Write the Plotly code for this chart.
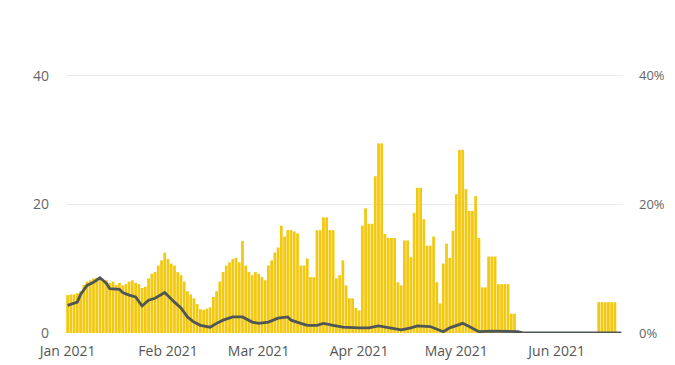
"""Daily bars with a rolling share line on a secondary percent axis."""

import pandas as pd
import plotly.graph_objects as go

# Palette
BAR_YELLOW = "#F2C811"
LINE_GRAY = "#4F5656"
GRID_GRAY = "#EBEBEB"
TICK_GRAY = "#666666"

# Daily bar values, 1 Jan 2021 onwards
bar_start = "2021-01-01"
bar_values = (
    [5.9, 6.0, 6.0, 6.2, 6.5]
    + [7.5, 8.0, 8.2, 8.5, 8.6, 8.3]
    + [8.0, 8.2, 7.8, 8.0, 7.5, 7.8, 7.4]
    + [7.6, 8.0, 8.2, 7.8, 7.6, 7.0, 7.2]
    + [8.5, 9.2, 9.5, 10.5, 11.3, 12.5]
    + [11.5, 10.8, 10.5, 9.5, 9.0, 8.0]
    + [6.5, 6.0, 5.4, 4.5]
    + [3.7, 3.6, 3.8, 4.0]
    + [5.6, 6.5, 8.0]
    + [9.5, 10.5, 11.0, 11.5, 11.7, 11.0]
    + [14.3]
    + [10.5, 9.5, 9.0, 9.5, 9.2, 8.7, 8.2]
    + [10.5, 11.3, 12.5, 13.3]
    + [16.7, 15.0, 16.0, 16.0, 15.8, 15.5]
    + [10.5, 10.5, 11.6, 8.7, 8.7]
    + [16.0, 16.0, 18.0, 18.0, 16.0, 16.0, 8.5, 9.0]
    + [11.3, 7.4, 5.4, 5.4, 3.9, 3.5]
    + [16.7, 19.4, 17.0, 17.0, 24.4, 29.5, 29.5]
    + [15.4, 14.8, 14.8, 14.8, 7.9, 7.4]
    + [14.4, 14.4, 11.8, 18.7, 22.6, 22.6, 17.7]
    + [13.6, 13.6, 15.0, 7.9, 4.6]
    + [10.8, 13.9, 11.7, 15.9, 21.6, 28.5, 28.5]
    + [22.4, 19.0, 19.0, 21.3, 14.8, 7.1, 7.1]
    + [11.9, 11.9, 11.9, 7.6, 7.6, 7.6, 7.6]
    + [3.0, 3.0]
    + [0] * 25
    + [4.8, 4.8, 4.8, 4.8, 4.8, 4.8]
)

# Line points (percent)
line_dates = [
    "2021-01-01", "2021-01-04", "2021-01-05", "2021-01-07", "2021-01-09",
    "2021-01-11", "2021-01-13", "2021-01-14", "2021-01-17", "2021-01-18",
    "2021-01-20", "2021-01-22", "2021-01-24", "2021-01-26", "2021-01-28",
    "2021-01-31", "2021-02-03", "2021-02-05", "2021-02-07", "2021-02-09",
    "2021-02-11", "2021-02-14", "2021-02-16", "2021-02-18", "2021-02-21",
    "2021-02-24", "2021-02-27", "2021-03-01", "2021-03-04", "2021-03-07",
    "2021-03-10", "2021-03-11", "2021-03-14", "2021-03-16", "2021-03-19",
    "2021-03-21", "2021-03-24", "2021-03-27", "2021-04-01", "2021-04-04",
    "2021-04-07", "2021-04-10", "2021-04-14", "2021-04-17", "2021-04-19",
    "2021-04-23", "2021-04-27", "2021-04-29", "2021-05-03", "2021-05-05",
    "2021-05-08", "2021-05-12", "2021-05-20", "2021-05-22", "2021-06-21",
]
line_values = [
    4.3, 4.8, 6.0, 7.4, 7.9,
    8.6, 7.7, 6.9, 6.8, 6.3,
    5.9, 5.6, 4.2, 5.1, 5.4,
    6.3, 4.8, 3.9, 2.5, 1.7,
    1.2, 0.9, 1.5, 2.0, 2.5,
    2.5, 1.7, 1.5, 1.7, 2.3,
    2.5, 2.0, 1.5, 1.2, 1.2,
    1.5, 1.2, 0.9, 0.8, 0.8,
    1.1, 0.8, 0.5, 0.8, 1.1,
    1.0, 0.2, 0.8, 1.5, 1.0,
    0.2, 0.3, 0.2, 0.0, 0.0,
]

month_ticks = ["2021-01-01", "2021-02-01", "2021-03-01", "2021-04-01", "2021-05-01", "2021-06-01"]
month_labels = ["Jan 2021", "Feb 2021", "Mar 2021", "Apr 2021", "May 2021", "Jun 2021"]
left_ticks = [0, 20, 40]
right_ticks = [0, 20, 40]
right_labels = ["0%", "20%", "40%"]

bar_dates = pd.date_range(bar_start, periods=len(bar_values), freq="D")

fig = go.Figure()

fig.add_trace(
    go.Bar(
        x=bar_dates,
        y=bar_values,
        marker=dict(color=BAR_YELLOW, line=dict(width=0)),
        name="Daily",
        yaxis="y",
    )
)

fig.add_trace(
    go.Scatter(
        x=pd.to_datetime(line_dates),
        y=line_values,
        mode="lines",
        line=dict(color=LINE_GRAY, width=2.8),
        name="Share",
        yaxis="y2",
    )
)

font_family = "Segoe UI, Open Sans, sans-serif"

# The page body adds an 8px margin, so the figure is sized to fit the window
fig.update_layout(
    width=667,
    height=357,
    bargap=0.15,
    showlegend=False,
    plot_bgcolor="white",
    paper_bgcolor="white",
    font=dict(family=font_family, color=TICK_GRAY, size=14),
    margin=dict(l=58, r=52, t=66, b=32, pad=0, autoexpand=False),
    xaxis=dict(
        type="date",
        range=["2020-12-31 12:00", "2021-06-21 12:00"],
        tickmode="array",
        tickvals=month_ticks,
        ticktext=month_labels,
        showgrid=False,
        zeroline=False,
        showline=False,
        ticks="",
        ticklabelstandoff=8,
        tickfont=dict(size=14, color="#555555"),
        automargin=False,
        fixedrange=True,
    ),
    yaxis=dict(
        range=[0, 40.3],
        tickmode="array",
        tickvals=left_ticks,
        showgrid=True,
        gridcolor=GRID_GRAY,
        gridwidth=1,
        zeroline=False,
        ticks="",
        ticklabelstandoff=16,
        automargin=False,
        fixedrange=True,
    ),
    yaxis2=dict(
        range=[0, 40.3],
        tickmode="array",
        tickvals=right_ticks,
        ticktext=right_labels,
        overlaying="y",
        side="right",
        showgrid=False,
        zeroline=False,
        ticks="",
        ticklabelstandoff=15,
        tickfont=dict(size=13),
        automargin=False,
        fixedrange=True,
    ),
)

fig.write_html("out.html")
